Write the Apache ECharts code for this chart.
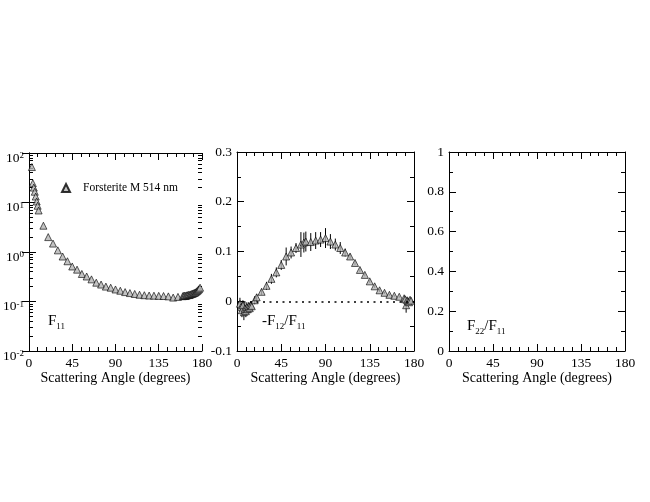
<!DOCTYPE html>
<html lang="en">
<head>
    <meta charset="UTF-8">
    <title>Forsterite scattering matrix</title>
    <script src="https://cdn.jsdelivr.net/npm/echarts@6.0.0/dist/echarts.min.js"></script>
    <style>
        * { margin: 0; padding: 0; box-sizing: border-box; }
        body { background: #fff; }
        #chart { width: 650px; height: 502px; }
    </style>
</head>
<body>
    <div id="chart"></div>

    <script>
        // F11 (log scale)
        const f11Angles = [3, 4, 5, 6, 7, 8, 9, 10, 15, 20, 25, 30, 35, 40, 45, 50, 55, 60, 65, 70,
            75, 80, 85, 90, 95, 100, 105, 110, 115, 120, 125, 130, 135, 140, 145, 150, 155,
            160, 161, 162, 163, 164, 165, 166, 167, 168, 169, 170, 171, 172, 173, 174, 175, 176, 177, 178];
        const f11Values = [52, 24.5, 20, 16.5, 13.2, 10.5, 8.6, 6.9, 3.4, 2.0, 1.48, 1.08, 0.81, 0.65, 0.51, 0.44,
            0.36, 0.32, 0.28, 0.24, 0.22, 0.20, 0.19, 0.175, 0.165, 0.155, 0.148, 0.142, 0.137, 0.134,
            0.132, 0.131, 0.13, 0.129, 0.127, 0.12, 0.124,
            0.128, 0.13, 0.131, 0.129, 0.133, 0.134, 0.136, 0.135, 0.139, 0.141, 0.143, 0.146, 0.149,
            0.152, 0.157, 0.163, 0.17, 0.178, 0.19];

        // -F12/F11 with error bars, middle panel
        const f12Angles = [3, 4, 5, 6, 7, 8, 9, 10, 11, 12, 13, 14, 15, 18, 20, 25, 30, 35, 40, 45, 50, 55,
            60, 65, 68, 70, 75, 80, 85, 90, 95, 100, 105, 110, 115, 120, 125, 130, 135, 140, 145,
            150, 155, 160, 165, 170, 171, 172, 173, 174, 175, 176, 177];
        const f12Values = [-0.005, -0.012, -0.018, -0.008, -0.022, -0.015, -0.02, -0.012, -0.016, -0.01, -0.014, -0.008,
            -0.01, 0.002, 0.008, 0.019, 0.031, 0.045, 0.058, 0.073, 0.09, 0.098,
            0.107, 0.114, 0.118, 0.12, 0.119, 0.122, 0.124, 0.127, 0.12, 0.114, 0.107, 0.098, 0.09,
            0.077, 0.063, 0.053, 0.04, 0.03, 0.022, 0.017, 0.013, 0.011, 0.009, 0.006,
            0.004, -0.008, 0.002, 0.0, -0.002, 0.003, 0.001];
        const f12Errors = [0.012, 0.01, 0.014, 0.01, 0.016, 0.012, 0.012, 0.01, 0.01, 0.008, 0.01, 0.008,
            0.01, 0.008, 0.006, 0.006, 0.008, 0.01, 0.01, 0.01, 0.018, 0.012,
            0.01, 0.025, 0.02, 0.02, 0.018, 0.017, 0.015, 0.02, 0.015, 0.012, 0.012, 0.008, 0.005,
            0.004, 0.004, 0.003, 0.003, 0.003, 0.003, 0.002, 0.002, 0.002, 0.002, 0.004,
            0.004, 0.015, 0.005, 0.004, 0.004, 0.003, 0.003];

        const xTicks = [0, 45, 90, 135, 180];
        const logMajor = [0.01, 0.1, 1, 10, 100];
        const legendName = 'Forsterite M 514 nm';

        const serif = 'Liberation Serif, DejaVu Serif, Times New Roman, serif';

        const logMinor = [];
        for (let k = -2; k < 2; k++) {
            for (let m = 2; m <= 9; m++) logMinor.push(m * Math.pow(10, k));
        }

        const chart = echarts.init(document.getElementById('chart'));

        const grids = [
            { left: 25, top: 153, width: 177, height: 198 },
            { left: 237, top: 152, width: 177, height: 199 },
            { left: 449, top: 152, width: 176, height: 199 }
        ];

        const black = { color: '#000', width: 1 };

        function xAxis(g, top) {
            return {
                gridIndex: g, type: 'value', position: top ? 'top' : 'bottom',
                min: xTicks[0], max: xTicks[xTicks.length - 1], interval: 45,
                axisLine: { show: true, onZero: false, lineStyle: black },
                axisTick: { inside: true, length: 7, lineStyle: black },
                minorTick: { show: true, splitNumber: 5, length: 4, lineStyle: black },
                splitLine: { show: false },
                axisLabel: { show: !top, margin: 5, color: '#000', fontFamily: serif, fontSize: 13.5 },
                name: top ? '' : 'Scattering Angle (degrees)',
                nameLocation: 'middle', nameGap: 20,
                nameTextStyle: { color: '#000', fontFamily: serif, fontSize: 14 }
            };
        }

        function yLin(g, right, min, max, step) {
            return {
                gridIndex: g, type: 'value', position: right ? 'right' : 'left',
                min: min, max: max, interval: step,
                axisLine: { show: true, onZero: false, lineStyle: black },
                axisTick: { inside: true, length: 7, lineStyle: black },
                minorTick: { show: true, splitNumber: 2, length: 4, lineStyle: black },
                splitLine: { show: false },
                axisLabel: {
                    show: !right, margin: 5, color: '#000', fontFamily: serif, fontSize: 13.5,
                    formatter: v => (Math.abs(v) < 1e-9 ? '0' : String(+v.toFixed(1)))
                }
            };
        }

        function yLog(right, minor) {
            return {
                gridIndex: 0, type: 'log', logBase: 10, position: right ? 'right' : 'left',
                min: 0.01, max: 100,
                axisLine: { show: !minor, lineStyle: black },
                axisTick: { inside: true, length: minor ? 4 : 7, lineStyle: black,
                    customValues: minor ? logMinor : logMajor },
                splitLine: { show: false },
                axisLabel: {
                    show: !right && !minor, margin: 5, customValues: logMajor,
                    formatter: v => '{b|10}{s|' + Math.round(Math.log10(v)) + '}',
                    rich: {
                        b: { fontFamily: serif, fontSize: 13.5, color: '#000', lineHeight: 13, padding: [10, 0, 0, 0] },
                        s: { fontFamily: serif, fontSize: 9, color: '#000', lineHeight: 9, padding: [6, 0, 0, 0] }
                    }
                }
            };
        }

        const subRich = {
            a: { fontFamily: serif, fontSize: 15, color: '#000', lineHeight: 15 },
            u: { fontFamily: serif, fontSize: 9, color: '#000', lineHeight: 9, padding: [11, 0, 0, 0] }
        };

        function panelLabel(x, y, text) {
            return { type: 'text', left: x, top: y, style: { text: text, rich: subRich } };
        }

        const triangleStyle = { color: '#b4b4b4', borderColor: '#000', borderWidth: 0.8 };

        chart.setOption({
            animation: false,
            backgroundColor: '#fff',
            grid: grids,
            xAxis: [xAxis(0, false), xAxis(0, true), xAxis(1, false), xAxis(1, true), xAxis(2, false), xAxis(2, true)],
            yAxis: [
                yLog(false, false), yLog(true, false), yLog(false, true), yLog(true, true),
                yLin(1, false, -0.1, 0.3, 0.1), yLin(1, true, -0.1, 0.3, 0.1),
                yLin(2, false, 0, 1, 0.2), yLin(2, true, 0, 1, 0.2)
            ],
            legend: {
                left: 56, top: 177, itemWidth: 8, itemHeight: 8,
                data: [legendName],
                formatter: name => '{t|' + name + '}',
                textStyle: { rich: { t: { fontFamily: serif, fontSize: 11.5, color: '#000', padding: [0, 0, 0, 8] } } }
            },
            graphic: [
                panelLabel(48, 311, '{a|F}{u|11}'),
                panelLabel(262, 311, '{a|-F}{u|12}{a|/F}{u|11}'),
                panelLabel(467, 316, '{a|F}{u|22}{a|/F}{u|11}')
            ],
            series: [
                {
                    name: legendName, type: 'scatter', xAxisIndex: 0, yAxisIndex: 0,
                    symbol: 'triangle', symbolSize: 7, itemStyle: triangleStyle,
                    data: f11Angles.map((a, i) => [a, f11Values[i]])
                },
                {
                    type: 'custom', xAxisIndex: 2, yAxisIndex: 4,
                    encode: { x: 0, y: [1, 2] },
                    data: f12Angles.map((a, i) => [a, f12Values[i] - f12Errors[i], f12Values[i] + f12Errors[i]]),
                    renderItem: (params, api) => {
                        const lo = api.coord([api.value(0), api.value(1)]);
                        const hi = api.coord([api.value(0), api.value(2)]);
                        return { type: 'line', shape: { x1: lo[0], y1: lo[1], x2: hi[0], y2: hi[1] },
                            style: { stroke: '#000', lineWidth: 1 } };
                    }
                },
                {
                    name: 'f12', type: 'scatter', xAxisIndex: 2, yAxisIndex: 4,
                    symbol: 'triangle', symbolSize: 7, itemStyle: triangleStyle,
                    data: f12Angles.map((a, i) => [a, f12Values[i]]),
                    markLine: {
                        silent: true, symbol: ['none', 'none'], label: { show: false },
                        lineStyle: { color: '#000', width: 1.5, type: [2, 4.5] },
                        data: [{ yAxis: 0 }]
                    }
                }
            ]
        });
    </script>
</body>
</html>
